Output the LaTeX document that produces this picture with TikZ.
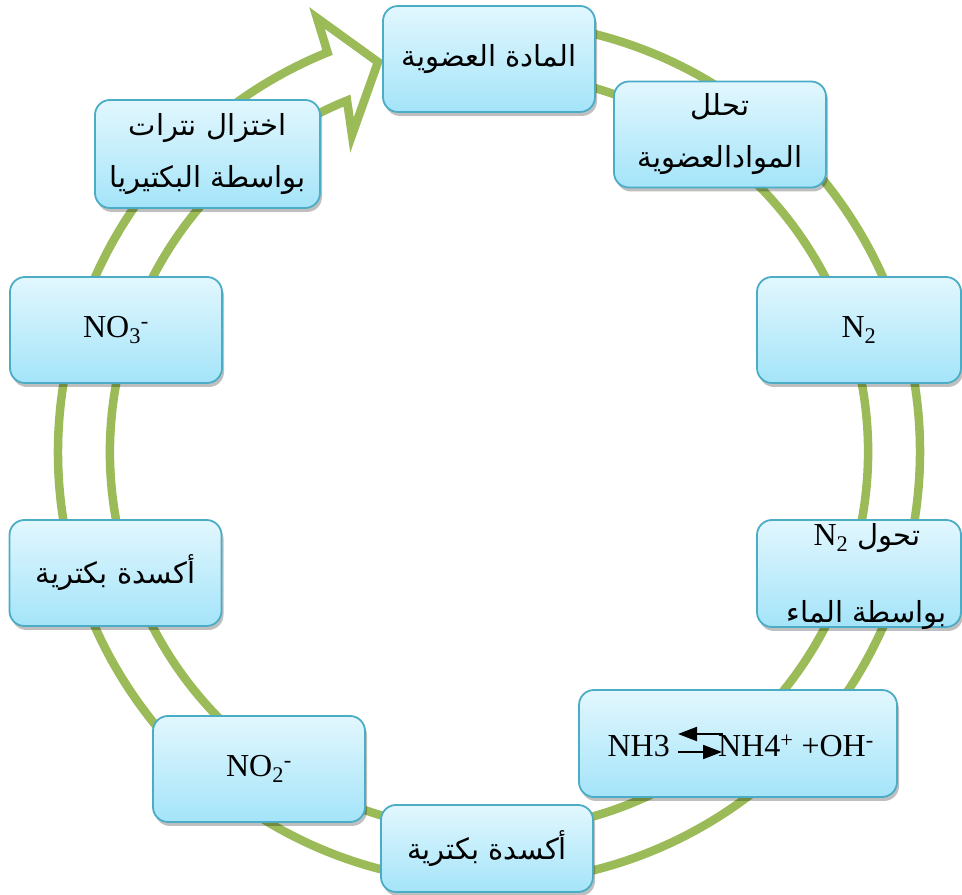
\documentclass[tikz,border=0pt]{standalone}
\usepackage{fontspec}
\setmainfont{Liberation Serif}
\newfontfamily\arabicfont[Script=Arabic]{DejaVu Sans}
\TeXXeTstate=1
\usepackage{tikz}
\usetikzlibrary{calc, shadows, arrows.meta, positioning}
\definecolor{ringgreen}{HTML}{9BBB59}
\definecolor{boxline}{HTML}{4BACC6}
\definecolor{boxtop}{HTML}{E2F7FE}
\definecolor{boxbottom}{HTML}{A4E4F9}
\tikzset{
    boxnode/.style = {draw=boxline, line width=1.8pt, rectangle, rounded corners=15pt,
      top color=boxtop, bottom color=boxbottom, minimum width=212pt, minimum height=106pt,
      inner sep=0pt, node distance=0em, align=center,
      drop shadow={shadow xshift=2pt, shadow yshift=-4pt, opacity=0.25, fill=black}},
    textnode/.style = {draw=none, fill=none, rectangle, inner sep=0em, node distance=0em, align=center},
    latinfont/.style = {font=\fontsize{32}{38}\selectfont},
    arabfont/.style = {font=\fontsize{29}{52}\selectfont\arabicfont},
    ringband/.style = {draw=ringgreen, line width=8.5pt, fill=white, line join=miter},
    eqarrow/.style = {black, line width=2pt, -{Triangle[length=19pt, width=14pt]}}
}
\newcommand{\arab}[1]{\beginR #1\endR}

\begin{document}
\begin{tikzpicture}[x=1pt, y=1pt]
    \useasboundingbox (0,0) rectangle (962,895);

    % the cycle arrow
    \coordinate (C) at (489,443);
    \draw [ringband] ($(C)+(85:431pt)$) arc[start angle=85, end angle=-248, radius=431pt]
        -- (317,877) -- (378,833) -- (352,760) -- ($(C)+(112:379pt)$)
        arc[start angle=-248, end angle=85, radius=379pt] -- cycle;

    \node [boxnode, arabfont, name=organic] at (489,836) {\arab{المادة العضوية}};
    \node [boxnode, arabfont, name=decay, below of = organic, xshift=231pt, yshift=-75.5pt] 
        {\arab{تحلل}\\ \arab{الموادالعضوية}};
    \node [boxnode, latinfont, name=nitrogen, below of = decay, xshift=139pt, yshift=-195.5pt, 
        minimum width=204pt] {N\textsubscript{2}};

    \node [boxnode, name=fixation, below of = nitrogen, yshift=-243.5pt, minimum width=204pt, 
        minimum height=107pt] {};
    \node [textnode, arabfont, font=\fontsize{29}{77}\selectfont\arabicfont, name=fixtext, 
        below of = fixation, xshift=8pt, yshift=-3pt] 
        {\arab{تحول \beginL{\fontsize{32}{38}\selectfont\rmfamily N\textsubscript{2}}\endL}\\ \arab{بواسطة الماء}};

    \node [boxnode, name=ammonia, below of = fixation, xshift=-121pt, yshift=-170pt, 
        minimum width=318pt, minimum height=107pt] {};
    \node [textnode, latinfont, name=nhthree, below of = ammonia, xshift=-68pt, yshift=-13.5pt, 
        anchor=base east] {NH3};
    \node [textnode, latinfont, name=nhfour, below of = ammonia, xshift=-20pt, yshift=-13.5pt, 
        anchor=base west] {NH4\textsuperscript{+} +OH\textsuperscript{-}};
    \draw [eqarrow] ([xshift=5pt, yshift=23pt]nhfour.base west) -- ([xshift=8pt, yshift=23pt]nhthree.base east);
    \draw [eqarrow] ([xshift=8pt, yshift=5pt]nhthree.base east) -- ([xshift=4pt, yshift=5pt]nhfour.base west);

    \node [boxnode, arabfont, name=oxidbottom, below of = ammonia, xshift=-251pt, yshift=-105pt, 
        minimum height=87pt] {\arab{أكسدة بكترية}};
    \node [boxnode, latinfont, name=nitrite, above of = oxidbottom, xshift=-228pt, yshift=79.5pt] 
        {NO\textsubscript{2}\textsuperscript{-}};
    \node [boxnode, arabfont, name=oxidleft, above of = nitrite, xshift=-143.5pt, yshift=196pt] 
        {\arab{أكسدة بكترية}};
    \node [boxnode, latinfont, name=nitrate, above of = oxidleft, xshift=0.5pt, yshift=243pt] 
        {NO\textsubscript{3}\textsuperscript{-}};
    \node [boxnode, arabfont, name=denitrif, above of = nitrate, xshift=91.5pt, yshift=176pt, 
        minimum width=225pt, minimum height=108pt] {\arab{اختزال نترات}\\ \arab{بواسطة البكتيريا}};
\end{tikzpicture}
\end{document}
